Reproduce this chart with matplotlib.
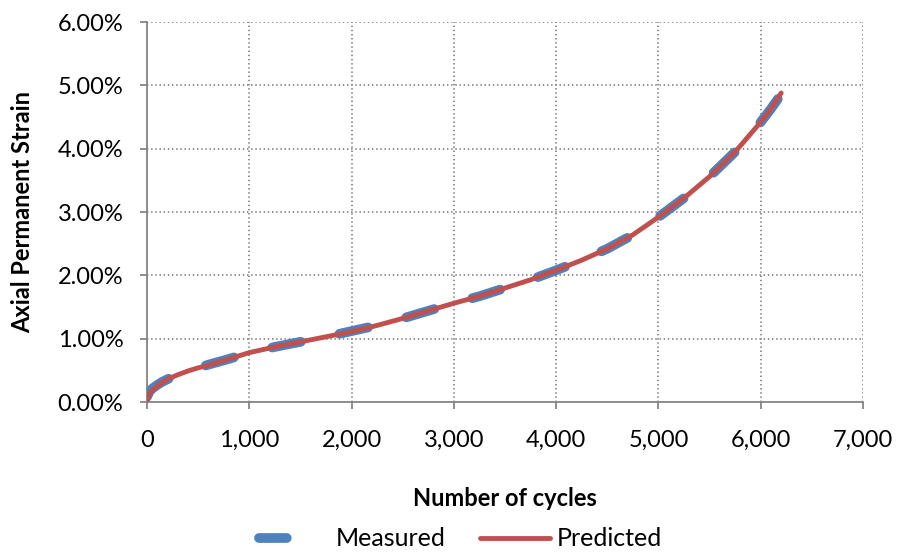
import numpy as np
import matplotlib
matplotlib.use("Agg")
import matplotlib.pyplot as plt
from matplotlib.lines import Line2D
from matplotlib.ticker import FuncFormatter, MultipleLocator

plt.rcParams['font.family'] = ['Lato', 'DejaVu Sans']
plt.rcParams['lines.scale_dashes'] = False

# cycles vs axial permanent strain (%)
meas_cycles = [0, 25, 50, 100, 150, 200, 300, 400, 500, 600, 800, 1000, 1250, 1500,
               1750, 2000, 2250, 2500, 2750, 3000, 3250, 3500, 3750, 4000, 4250,
               4500, 4750, 5000, 5250, 5500, 5750, 6000, 6100, 6200]
meas_strain = [0.08, 0.17, 0.21, 0.27, 0.32, 0.36, 0.43, 0.49, 0.54, 0.59, 0.68, 0.78,
               0.87, 0.95, 1.03, 1.12, 1.21, 1.32, 1.44, 1.56, 1.67, 1.80, 1.93, 2.08,
               2.24, 2.42, 2.64, 2.92, 3.22, 3.56, 3.95, 4.42, 4.63, 4.86]

pred_cycles = [0, 25, 50, 100, 150, 200, 300, 400, 500, 600, 800, 1000, 1250, 1500,
               1750, 2000, 2250, 2500, 2750, 3000, 3250, 3500, 3750, 4000, 4250,
               4500, 4750, 5000, 5250, 5500, 5750, 6000, 6100, 6200]
pred_strain = [0.03, 0.13, 0.18, 0.25, 0.31, 0.36, 0.43, 0.49, 0.54, 0.58, 0.68, 0.78,
               0.87, 0.95, 1.03, 1.11, 1.21, 1.32, 1.44, 1.56, 1.67, 1.80, 1.93, 2.08,
               2.24, 2.42, 2.64, 2.92, 3.22, 3.56, 3.95, 4.42, 4.63, 4.88]

BLUE = '#4F81BD'
RED = '#C0504D'
GREY = '#868686'

fig = plt.figure(figsize=(8.97, 5.52), dpi=100)
ax = fig.add_axes([0.1639, 0.2717, 0.7982, 0.6884])

ax.plot(meas_cycles, meas_strain, color=BLUE, linewidth=7,
        dashes=(21, 28.5), dash_capstyle='round', solid_capstyle='round', zorder=3)
ax.plot(pred_cycles, pred_strain, color=RED, linewidth=3.5,
        solid_capstyle='round', zorder=4)

ax.set_xlim(0, 7000)
ax.set_ylim(0, 6)
ax.xaxis.set_major_locator(MultipleLocator(1000))
ax.yaxis.set_major_locator(MultipleLocator(1))
ax.xaxis.set_major_formatter(FuncFormatter(lambda v, p: f"{int(v):,}"))
ax.yaxis.set_major_formatter(FuncFormatter(lambda v, p: f"{v:.2f}%"))

ax.grid(True, linestyle=(0, (1, 2)), color=GREY, linewidth=1.3)
ax.set_axisbelow(True)
for s in ['top', 'right']:
    ax.spines[s].set_visible(False)
for s in ['left', 'bottom']:
    ax.spines[s].set_color(GREY)
    ax.spines[s].set_linewidth(1.3)
ax.tick_params(axis='both', colors=GREY, length=5, width=1.3,
               labelcolor='black', labelsize=17)
ax.tick_params(axis='x', pad=15)
ax.tick_params(axis='y', pad=12)

ax.set_xlabel('Number of cycles', fontsize=17, fontweight='bold', labelpad=26)
ax.set_ylabel('Axial Permanent Strain', fontsize=17, fontweight='bold', labelpad=17)

# legend handles: a single short dash for the measured series
handles = [Line2D([], [], color=BLUE, linewidth=7, dashes=(20, 200),
                  dash_capstyle='round'),
           Line2D([], [], color=RED, linewidth=3.5, solid_capstyle='round')]
fig.legend(handles, ['Measured', 'Predicted'], loc='lower center',
           bbox_to_anchor=(0.5134, -0.038), ncol=2, frameon=False,
           fontsize=18, handlelength=2.8, columnspacing=1.36, handletextpad=0.28)

fig.savefig('out.png', dpi=100)
